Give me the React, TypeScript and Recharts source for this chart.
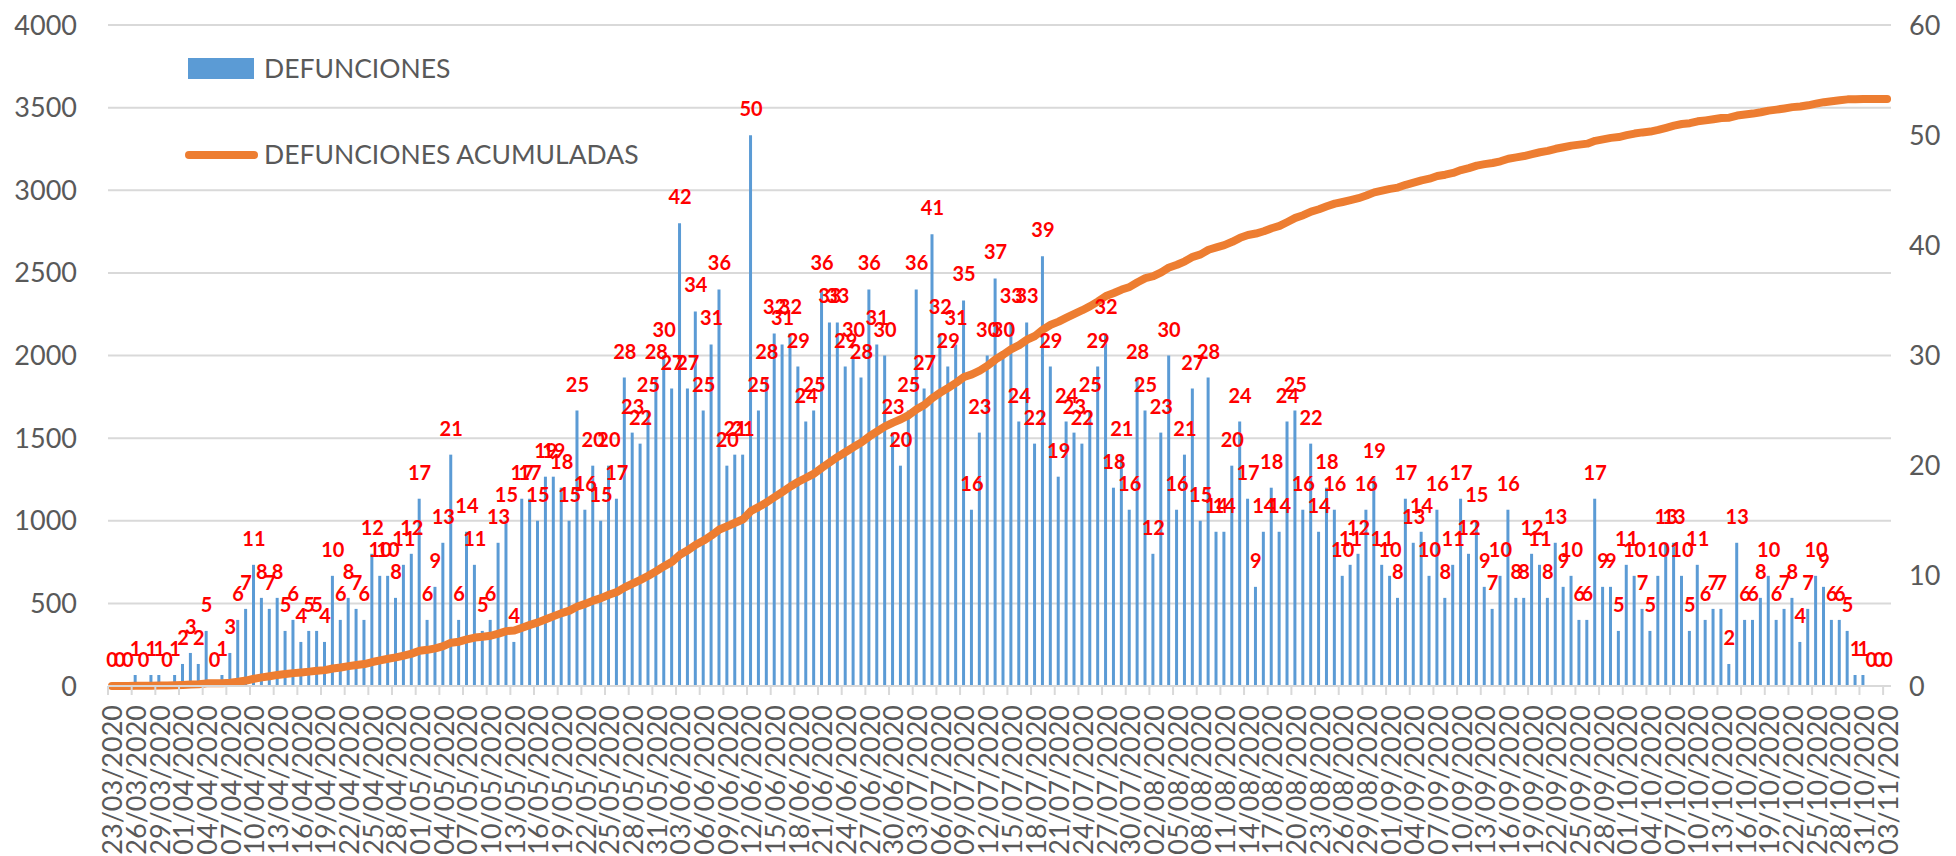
import React from 'react';
import { ComposedChart, Bar, Line, XAxis, YAxis, CartesianGrid, LabelList, Legend } from 'recharts';

const FONT = "Lato, 'Open Sans', sans-serif";

// Months covered by the chart: [month, first day, last day]
const MONTHS: [string, number, number][] = [
  ['03', 23, 31], ['04', 1, 30], ['05', 1, 31], ['06', 1, 30], ['07', 1, 31],
  ['08', 1, 31], ['09', 1, 30], ['10', 1, 31], ['11', 1, 3],
];
const fechas: string[] = [];
MONTHS.forEach(([m, a, b]) => {
  for (let d = a; d <= b; d++) fechas.push(`${String(d).padStart(2, '0')}/${m}/2020`);
});

// Daily deaths (bars, right axis)
const defunciones: number[] = [
  0, 0, 0, 1, 0, 1, 1, 0, 1, 2,
  3, 2, 5, 0, 1, 3, 6, 7, 11, 8,
  7, 8, 5, 6, 4, 5, 5, 4, 10, 6,
  8, 7, 6, 12, 10, 10, 8, 11, 12, 17,
  6, 9, 13, 21, 6, 14, 11, 5, 6, 13,
  15, 4, 17, 17, 15, 19, 19, 18, 15, 25,
  16, 20, 15, 20, 17, 28, 23, 22, 25, 28,
  30, 27, 42, 27, 34, 25, 31, 36, 20, 21,
  21, 50, 25, 28, 32, 31, 32, 29, 24, 25,
  36, 33, 33, 29, 30, 28, 36, 31, 30, 23,
  20, 25, 36, 27, 41, 32, 29, 31, 35, 16,
  23, 30, 37, 30, 33, 24, 33, 22, 39, 29,
  19, 24, 23, 22, 25, 29, 32, 18, 21, 16,
  28, 25, 12, 23, 30, 16, 21, 27, 15, 28,
  14, 14, 20, 24, 17, 9, 14, 18, 14, 24,
  25, 16, 22, 14, 18, 16, 10, 11, 12, 16,
  19, 11, 10, 8, 17, 13, 14, 10, 16, 8,
  11, 17, 12, 15, 9, 7, 10, 16, 8, 8,
  12, 11, 8, 13, 9, 10, 6, 6, 17, 9,
  9, 5, 11, 10, 7, 5, 10, 13, 13, 10,
  5, 11, 6, 7, 7, 2, 13, 6, 6, 8,
  10, 6, 7, 8, 4, 7, 10, 9, 6, 6,
  5, 1, 1, 0, 0, 0,
];

const leftTicks: number[] = [0, 500, 1000, 1500, 2000, 2500, 3000, 3500, 4000];
const rightTicks: number[] = [0, 10, 20, 30, 40, 50, 60];

// Cumulative deaths (line, left axis) = running total of the daily deaths
let acc = 0;
const data = fechas.map((fecha, i) => {
  acc += defunciones[i];
  return { fecha, defunciones: defunciones[i], acumuladas: acc };
});

const W = 1956;
const H = 856;
const LEFT_W = 108;
const RIGHT_W = 65;
const BAND = (W - LEFT_W - RIGHT_W) / fechas.length;

const DateTick = (props: any) => {
  const { x, y, payload } = props;
  const ty = y + 19;
  return (
    <g>
      <line x1={x - BAND / 2} x2={x - BAND / 2} y1={y} y2={y + 9} stroke="#D9D9D9" strokeWidth={2} />
      <text
        x={x}
        y={ty}
        transform={`rotate(-90, ${x}, ${ty})`}
        textAnchor="end"
        dominantBaseline="central"
        fontSize={27}
        fontFamily={FONT}
        fill="#595959"
      >
        {payload.value}
      </text>
    </g>
  );
};

const renderLegend = () => (
  <div style={{ position: 'relative', width: 700, height: 200, fontFamily: FONT }}>
    <div style={{ position: 'absolute', left: 188, top: 58, width: 66, height: 21, background: '#5B9BD5' }} />
    <div
      style={{
        position: 'absolute', left: 264, top: 68, transform: 'translateY(-50%)',
        fontSize: 26.5, lineHeight: 1, color: '#595959', whiteSpace: 'nowrap',
      }}
    >
      DEFUNCIONES
    </div>
    <div style={{ position: 'absolute', left: 185, top: 151, width: 73, height: 8, borderRadius: 4, background: '#ED7D31' }} />
    <div
      style={{
        position: 'absolute', left: 264, top: 154, transform: 'translateY(-50%)',
        fontSize: 26.5, lineHeight: 1, color: '#595959', whiteSpace: 'nowrap',
      }}
    >
      DEFUNCIONES ACUMULADAS
    </div>
  </div>
);

export default function App() {
  return (
    <div style={{ position: 'absolute', left: 0, top: 0, width: W, height: H, background: '#fff' }}>
      <ComposedChart
        width={W}
        height={H}
        data={data}
        margin={{ top: 25, right: 0, bottom: 0, left: 0 }}
        barCategoryGap={0}
      >
        <CartesianGrid vertical={false} yAxisId="left" stroke="#D9D9D9" strokeWidth={2} />
        <XAxis
          dataKey="fecha"
          interval={2}
          height={170}
          tick={<DateTick />}
          tickLine={false}
          tickSize={0}
          tickMargin={0}
          axisLine={{ stroke: '#D9D9D9', strokeWidth: 2 }}
        />
        <YAxis
          yAxisId="left"
          orientation="left"
          width={LEFT_W}
          domain={[0, 4000]}
          ticks={leftTicks}
          axisLine={false}
          tickLine={false}
          tickSize={0}
          tickMargin={31}
          tick={{ fontSize: 27, fill: '#595959', fontFamily: FONT }}
        />
        <YAxis
          yAxisId="right"
          orientation="right"
          width={RIGHT_W}
          domain={[0, 60]}
          ticks={rightTicks}
          axisLine={false}
          tickLine={false}
          tickSize={0}
          tickMargin={18}
          tick={{ fontSize: 27, fill: '#595959', fontFamily: FONT, textAnchor: 'start' }}
        />
        <Legend
          layout="vertical"
          align="center"
          verticalAlign="middle"
          content={renderLegend}
          wrapperStyle={{ left: 0, top: 0, width: 700, height: 200 }}
        />
        <Bar dataKey="defunciones" yAxisId="right" fill="#5B9BD5" barSize={3} isAnimationActive={false} />
        <Line
          dataKey="acumuladas"
          yAxisId="left"
          type="linear"
          stroke="#ED7D31"
          strokeWidth={8}
          strokeLinecap="round"
          strokeLinejoin="round"
          dot={false}
          activeDot={false}
          isAnimationActive={false}
        />
        {/* Data labels of the daily deaths, drawn on top (includes zero values) */}
        <Line
          dataKey="defunciones"
          yAxisId="right"
          type="linear"
          stroke="none"
          dot={false}
          activeDot={false}
          legendType="none"
          isAnimationActive={false}
        >
          <LabelList
            dataKey="defunciones"
            position="top"
            offset={19}
            fill="#FF0000"
            fontSize={20}
            fontWeight="bold"
            fontFamily={FONT}
          />
        </Line>
      </ComposedChart>
    </div>
  );
}
